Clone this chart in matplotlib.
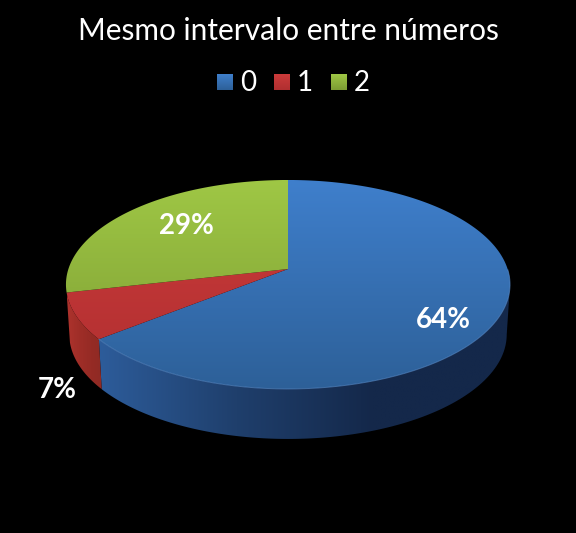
import numpy as np
import matplotlib
matplotlib.use("Agg")
import matplotlib.pyplot as plt
from matplotlib.patches import Polygon
from matplotlib.colors import LinearSegmentedColormap

title = "Mesmo intervalo entre números"
categories = ["0", "1", "2"]
values = [9, 1, 4]

top_colors = [("#3f7fcc", "#2d6098"), ("#cc3b3b", "#b02f30"), ("#9fc745", "#7c9c33")]
side_colors = [("#2d5c9a", "#1f3f6c", "#14284a", "#14284a"), ("#ad332d", "#a02e28", "#962b25", "#8e2a24"), None]
label_xy = [(443, 320), (57, 390), (186, 226)]
legend_x = [225, 281.5, 338.5]

CX, CY = 288, 269      # apex of the pie in pixels
W, H, K = 219.6, 102.2, 0.148   # perspective projection of the disc
DEPTH = 50

plt.rcParams["font.family"] = ["Lato", "DejaVu Sans"]
fig = plt.figure(figsize=(5.76, 5.33), dpi=100, facecolor="black")
ax = fig.add_axes([0, 0, 1, 1])
ax.axis("off")


def rim(theta, depth=0.0, shrink=1.0):
    d = 1 + K * np.sin(theta)
    return CX + shrink * W * np.cos(theta) / d, CY - H * np.sin(theta) / d + depth


def gradient(poly, colors, zorder, vertical=True, span=None):
    cmap = LinearSegmentedColormap.from_list("g", list(colors))
    ramp = np.linspace(0, 1, 256)
    x0, x1 = poly[:, 0].min(), poly[:, 0].max()
    y0, y1 = poly[:, 1].min(), poly[:, 1].max()
    if vertical:
        a, b = span if span else (y0, y1)
        data = ramp.reshape(-1, 1)
        extent = (x0 - 1, x1 + 1, b, a)
    else:
        a, b = span if span else (x0, x1)
        data = ramp.reshape(1, -1)
        extent = (a, b, y1 + 1, y0 - 1)
    im = ax.imshow(data, cmap=cmap, extent=extent, aspect="auto", zorder=zorder,
                   interpolation="bilinear")
    patch = Polygon(poly, closed=True, transform=ax.transData, facecolor="none", edgecolor="none")
    ax.add_patch(patch)
    im.set_clip_path(patch)


fracs = np.array(values, dtype=float) / sum(values)
edges = np.pi / 2 - 2 * np.pi * np.concatenate([[0], np.cumsum(fracs)])

# side walls (only the part of the rim that faces the viewer)
for i in range(len(values)):
    if side_colors[i] is None:
        continue
    th = np.linspace(edges[i], edges[i + 1], 400)
    th = th[np.sin(th) < -K]
    xt, yt = rim(th)
    xb, yb = rim(th, DEPTH, 0.985)
    poly = np.column_stack([np.r_[xt, xb[::-1]], np.r_[yt, yb[::-1]]])
    gradient(poly, side_colors[i], 2, vertical=False)

# top faces
for i in range(len(values)):
    th = np.linspace(edges[i], edges[i + 1], 400)
    x, y = rim(th)
    poly = np.column_stack([np.r_[CX, x], np.r_[CY, y]])
    gradient(poly, top_colors[i], 3 + i * 0.1, span=(180, 389))

# light rim on the front edge of the blue slice
th = np.linspace(edges[0], edges[1], 400)
th = th[np.sin(th) < 0]
x, y = rim(th)
ax.plot(x, y, color="#5c8fcf", lw=0.7, alpha=0.6, zorder=4)

# data labels
for (lx, ly), f in zip(label_xy, fracs):
    ax.text(lx, ly, f"{f * 100:.0f}%", color="white", fontsize=20, fontweight="bold",
            ha="center", va="center", zorder=6)

# title
ax.text(288, 31, title, color="white", fontsize=21.5, ha="center", va="center", zorder=6)

# legend
for i, (lx, cat) in enumerate(zip(legend_x, categories)):
    square = np.array([(lx - 8, 74), (lx + 8, 74), (lx + 8, 90), (lx - 8, 90)], dtype=float)
    gradient(square, top_colors[i], 5)
    ax.text(lx + 23, 83, cat, color="white", fontsize=20, ha="center", va="center", zorder=6)

ax.set_xlim(0, 576)
ax.set_ylim(533, 0)
fig.savefig("out.png", dpi=100, facecolor="black")
